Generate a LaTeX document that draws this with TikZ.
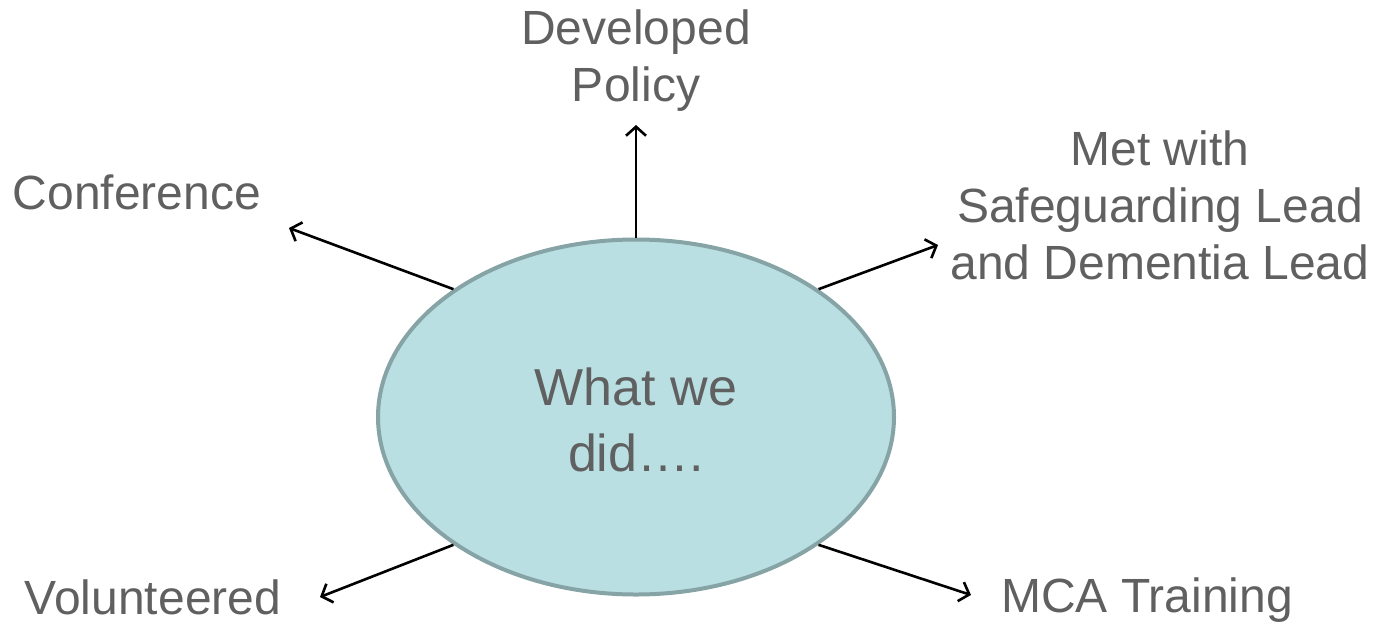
\documentclass[tikz,border=0pt]{standalone}
\usepackage{fontspec}
\setmainfont{Liberation Sans}
\usetikzlibrary{arrows.meta,shapes.geometric}
\definecolor{txt}{HTML}{606060}
\definecolor{ellfill}{HTML}{B9DFE3}
\definecolor{elldraw}{HTML}{86A3A6}
\begin{document}
\begin{tikzpicture}[x=1pt,y=-1pt,
  lbl/.style={text=txt,align=center,inner sep=0pt,font=\fontsize{48}{57}\selectfont},
  arr/.style={draw=black,line width=2.6pt,-{Straight Barb[length=9pt,width=20pt,line width=2.6pt]}}]
\useasboundingbox (0,0) rectangle (1384,622);
\node[ellipse,draw=elldraw,fill=ellfill,line width=4pt,minimum width=516pt,minimum height=355pt,inner sep=0pt] (c) at (636,417) {};
\node[text=txt,align=center,inner sep=0pt,font=\fontsize{52}{66}\selectfont] (ct) at (636,420) {What we\\did….};
\node[lbl] (dp) at (636,61) {Developed\\Policy};
\node[lbl] (conf) at (137,192) {Conference};
\node[lbl] (met) at (1160,205) {Met with\\Safeguarding Lead\\and Dementia Lead};
\node[lbl] (vol) at (153,597) {Volunteered};
\node[lbl] (mca) at (1147,600) {MCA Training};
\coordinate (tdp) at (636,125);
\coordinate (tconf) at (289,228);
\coordinate (tmet) at (938,245);
\coordinate (tvol) at (320,597);
\coordinate (tmca) at (971,595);
\draw[arr] (c.north) -- (tdp);
\draw[arr] (c.145) -- (tconf);
\draw[arr] (c.35) -- (tmet);
\draw[arr] (c.215) -- (tvol);
\draw[arr] (c.325) -- (tmca);
\end{tikzpicture}
\end{document}
